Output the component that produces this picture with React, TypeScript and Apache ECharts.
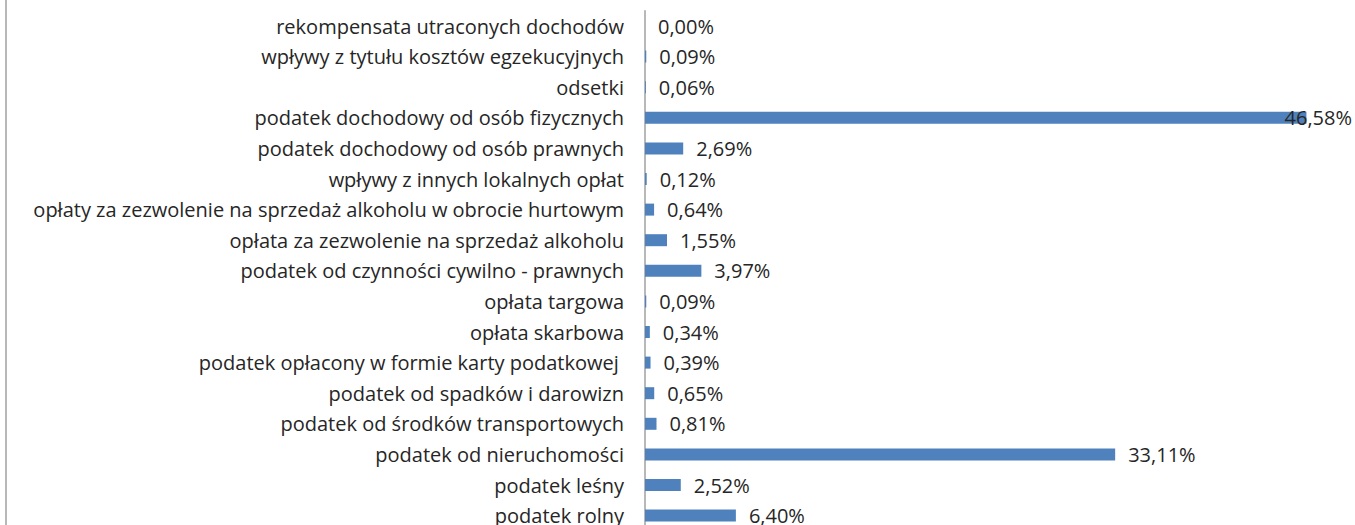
import React, { useEffect, useRef } from "react";
import * as echarts from "echarts";

const categories = [
  "rekompensata utraconych dochodów",
  "wpływy z tytułu kosztów egzekucyjnych",
  "odsetki",
  "podatek dochodowy od osób fizycznych",
  "podatek dochodowy od osób prawnych",
  "wpływy z innych lokalnych opłat",
  "opłaty za zezwolenie na sprzedaż alkoholu w obrocie hurtowym",
  "opłata za zezwolenie na sprzedaż alkoholu",
  "podatek od czynności cywilno - prawnych",
  "opłata targowa",
  "opłata skarbowa",
  "podatek opłacony w formie karty podatkowej ",
  "podatek od spadków i darowizn",
  "podatek od środków transportowych",
  "podatek od nieruchomości",
  "podatek leśny",
  "podatek rolny",
];

const shares = [
  0.0, 0.09, 0.06, 46.58, 2.69, 0.12, 0.64, 1.55, 3.97, 0.09, 0.34, 0.39, 0.65,
  0.81, 33.11, 2.52, 6.4,
];

const FONT = "Open Sans";
const TEXT = "#262626";

export default function App() {
  const ref = useRef<HTMLDivElement>(null);
  useEffect(() => {
    document.body.style.margin = "0";
    const chart = echarts.init(ref.current!, null, { renderer: "svg" });
    chart.setOption({
      animation: false,
      backgroundColor: "#ffffff",
      grid: { left: 645, top: 10.7, width: 712.5, height: 520.2, containLabel: false },
      xAxis: {
        type: "value",
        min: 0,
        max: 50,
        show: false,
        splitLine: { show: false },
      },
      yAxis: {
        type: "category",
        inverse: true,
        data: categories,
        axisLine: { show: true, lineStyle: { color: "#a0a0a0", width: 1.5 } },
        axisTick: { show: false },
        axisLabel: {
          margin: 21,
          fontFamily: FONT,
          fontSize: 20,
          color: TEXT,
        },
      },
      series: [
        {
          type: "bar",
          data: shares,
          barWidth: 12,
          itemStyle: { color: "#4f81bd" },
          label: {
            show: true,
            position: "right",
            distance: 13,
            fontFamily: FONT,
            fontSize: 20,
            color: TEXT,
            formatter: (p: any) => p.value.toFixed(2).replace(".", ",") + "%",
          },
          labelLayout: (p: any) => {
            const over = p.labelRect.x + p.labelRect.width - 1352;
            return over > 0 ? { dx: -over } : {};
          },
        },
      ],
      graphic: [
        {
          type: "line",
          shape: { x1: 6, y1: 0, x2: 6, y2: 545 },
          style: { stroke: "#a0a0a0", lineWidth: 1.5 },
        },
      ],
    });
    return () => chart.dispose();
  }, []);
  return (
    <div style={{ width: 1355, height: 525, overflow: "hidden", position: "relative" }}>
      <div ref={ref} style={{ width: 1355, height: 545 }} />
    </div>
  );
}
